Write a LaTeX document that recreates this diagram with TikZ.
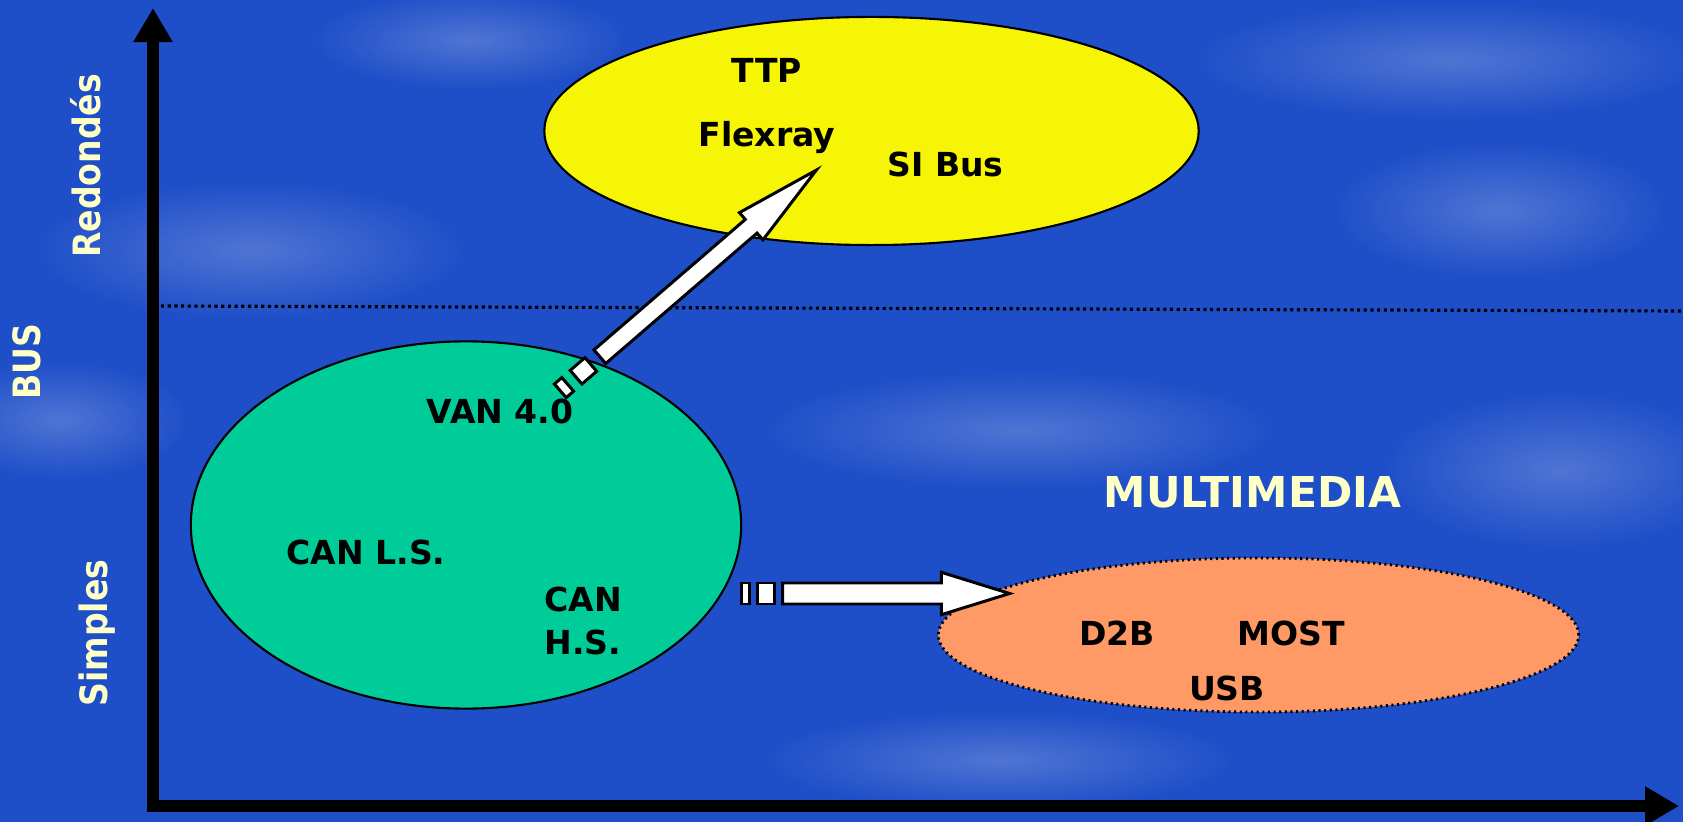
\documentclass[tikz,border=0pt]{standalone}
\usepackage{fontspec}
\setmainfont{DejaVu Sans}
\newfontfamily\condfont[FakeStretch=0.88]{DejaVu Sans}
\usetikzlibrary{shapes.geometric,arrows.meta,fadings}

\definecolor{sky}{RGB}{30,78,200}
\definecolor{cream}{RGB}{255,255,200}
\definecolor{busyellow}{RGB}{245,245,5}
\definecolor{busgreen}{RGB}{0,204,153}
\definecolor{busorange}{RGB}{255,153,102}

\tikzfading[name=softblob,inner color=transparent!0,outer color=transparent!100]

\tikzset{
	axis/.style={line width=3.4pt,-{Triangle[length=0.34cm,width=0.37cm]}},
	family/.style={ellipse,draw,line width=0.6pt,inner sep=0pt},
	bus/.style={font=\fontsize{9.4}{12}\selectfont\bfseries,inner sep=0pt,anchor=base},
	side/.style={font=\condfont\fontsize{10.7}{12}\selectfont\bfseries,text=cream,rotate=90,inner sep=0pt},
	block/.style={fill=white,draw,line width=0.85pt,line join=miter},
	cloud/.style={white,opacity=0.22,path fading=softblob}
}

\begin{document}
\begin{tikzpicture}[x=0.01cm,y=-0.01cm]
				\fill[sky] (0,0) rectangle (1683,822);
				\useasboundingbox (0,0) rectangle (1683,822);
				% clouds
				\fill[cloud] (470,40) ellipse [x radius=160,y radius=50];
				\fill[cloud] (250,250) ellipse [x radius=220,y radius=70];
				\fill[cloud] (1450,60) ellipse [x radius=260,y radius=60];
				\fill[cloud] (1500,210) ellipse [x radius=170,y radius=70];
				\fill[cloud] (1020,430) ellipse [x radius=260,y radius=60];
				\fill[cloud] (1560,470) ellipse [x radius=180,y radius=80];
				\fill[cloud] (60,420) ellipse [x radius=130,y radius=60];
				\fill[cloud] (1000,760) ellipse [x radius=240,y radius=50];

				% axes
				\coordinate (origin) at (153,806);
				\coordinate (ytip) at (153,8);
				\coordinate (xtip) at (1679,806);
				\draw[axis] ([yshift=-0.06cm]origin) -- (ytip);
				\draw[axis] ([xshift=-0.06cm]origin) -- (xtip);
				\draw[densely dotted,line width=0.9pt] (161,306) -- (1683,311);

				\node[side] (redondes) at (86,166) {Redondés};
				\node[side] (bus) at (27,362) {BUS};
				\node[side] (simples) at (97,633) {Simples};

				% families
				\node[family,fill=busyellow,minimum width=6.54cm,minimum height=2.28cm] (redond) at (871.5,131) {};
				\node[family,fill=busgreen,minimum width=5.5cm,minimum height=3.67cm] (simple) at (466,525) {};
				\node[family,fill=busorange,densely dotted,line width=0.8pt,minimum width=6.4cm,minimum height=1.54cm] (multi) at (1258.5,635) {};

				% evolution arrows
				\coordinate (dstart) at (560.3,390.8);
				\begin{scope}[shift={(dstart)},rotate=40.76]
				\draw[block] (0,-9) rectangle (9.8,9);
				\draw[block] (20.8,-9) rectangle (40.3,9);
				\draw[block] (52.2,-9) -- (252,-9) -- (252,-18) -- (338,0) -- (252,18) -- (252,9) -- (52.2,9) -- cycle;
				\end{scope}
				\coordinate (hstart) at (741,593.5);
				\begin{scope}[shift={(hstart)}]
				\draw[block] (0,-10.5) rectangle (8.6,10.5);
				\draw[block] (16.6,-10.5) rectangle (33.6,10.5);
				\draw[block] (41.6,-10.5) -- (200.3,-10.5) -- (200.3,-21.2) -- (268.6,0) -- (200.3,21.2) -- (200.3,10.5) -- (41.6,10.5) -- cycle;
				\end{scope}

				% bus names
				\node[bus] (ttp) at (767,83) {TTP};
				\node[bus] (flexray) at (767,147) {Flexray};
				\node[bus] (sibus) at (945.5,177) {SI Bus};
				\node[bus] (van) at (500,423) {VAN 4.0};
				\node[bus] (canls) at (366,564) {CAN L.S.};
				\node[bus,anchor=base west] (can) at (544,611) {CAN};
				\node[bus,anchor=base west] (hs) at (544,654) {H.S.};
				\node[bus,font=\fontsize{12.1}{14}\selectfont\bfseries,text=cream] (multimedia) at (1252.5,508) {MULTIMEDIA};
				\node[bus] (d2b) at (1117,645) {D2B};
				\node[bus] (most) at (1291,645) {MOST};
				\node[bus] (usb) at (1227,700) {USB};

\end{tikzpicture}
\end{document}
